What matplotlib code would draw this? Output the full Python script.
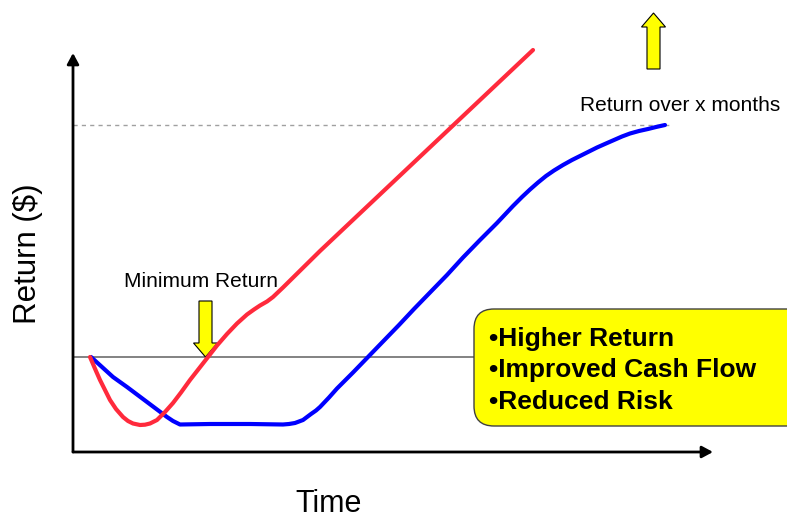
import matplotlib
matplotlib.use("Agg")
import matplotlib.pyplot as plt
from matplotlib.patches import FancyBboxPatch, FancyArrowPatch

plt.rcParams['font.family'] = ['Liberation Sans', 'DejaVu Sans']

# time / return in chart units
blue_t = [18, 40, 54, 74, 94, 100, 104, 107, 137, 177, 210, 216, 222, 226, 230, 234,
          238, 243, 247, 256, 264, 280, 295, 310, 326, 341, 357, 374, 390, 407, 424,
          440, 449, 457, 465, 473, 481, 490, 499, 508, 516, 524, 533, 541, 549, 557,
          566, 575, 583, 592]
blue_r = [95, 75, 65, 50, 35, 31, 29, 27.5, 28, 28, 27.5, 28, 29, 30.5, 32, 35,
          38, 41.5, 45, 54.5, 63.5, 79.5, 95, 110.5, 127, 143, 159.5, 177, 194.5, 212, 229,
          246, 255, 262.5, 269.5, 276, 281.5, 287, 292, 296.5, 300.5, 304.5, 308.5, 312, 315.5, 318.5,
          321, 323, 325, 327]

red_t = [17, 20, 23, 27, 32, 37, 43, 50, 55, 60, 67, 72, 77, 84, 92, 100, 108, 117,
         126, 135, 144, 154, 164, 174, 181, 187, 194, 200, 210, 247, 460]
red_r = [95, 88, 81, 72, 62, 52, 43, 35, 31, 28.5, 27, 27.3, 28.5, 32, 40, 49, 59.5, 72,
         83.5, 95, 106.5, 118, 128.5, 137.5, 142.5, 146.5, 150.5, 155, 164.5, 201, 402]

min_return = 95
target_return = 327
t_max = 640
r_max = 399

bullets = ["\u2022Higher Return", "\u2022Improved Cash Flow", "\u2022Reduced Risk"]

fig = plt.figure(figsize=(7.87, 5.2), dpi=100)
ax = fig.add_axes([0, 0, 1, 1])
ax.set_xlim(-73, 714)
ax.set_ylim(-68, 452)
ax.axis('off')

# reference lines
ax.plot([0, 401], [min_return, min_return], color='#606060', lw=1.1, zorder=1)
ax.plot([0, 599], [target_return, target_return], color='#A0A0A0', lw=1,
        dashes=(3, 3), zorder=1)

# axes with arrow heads
for end in [(t_max, 0), (0, r_max)]:
    ax.add_patch(FancyArrowPatch((0, 0), end, arrowstyle='-|>,head_length=0.65,head_width=0.35',
                                 mutation_scale=10, lw=2, color='black',
                                 shrinkA=0, shrinkB=0, zorder=3))

# yellow arrows
ax.arrow(580.5, 383, 0, 56, width=13, head_width=24, head_length=14,
         length_includes_head=True, fc='#FFFF00', ec='black', lw=0.8, zorder=2)
ax.arrow(132.5, 151, 0, -56, width=13, head_width=24, head_length=14,
         length_includes_head=True, fc='#FFFF00', ec='black', lw=0.8, zorder=2)

# curves
ax.plot(blue_t, blue_r, color='#0000FF', lw=3, solid_joinstyle='round',
        solid_capstyle='round', zorder=4)
ax.plot(red_t, red_r, color='#FF2A3C', lw=3, solid_joinstyle='round',
        solid_capstyle='round', zorder=5)

# benefit box
ax.add_patch(FancyBboxPatch((401, 26), 340, 117,
                            boxstyle='round,pad=0,rounding_size=20',
                            fc='#FFFF00', ec='#404040', lw=1, zorder=6))
for i, line in enumerate(bullets):
    ax.text(416, 106.3 - 31.7 * i, line, fontsize=19, fontweight='bold',
            va='baseline', ha='left', zorder=7)

ax.text(127.5, 164.7, "Minimum Return", fontsize=15, ha='center', va='baseline')
ax.text(507, 341, "Return over x months", fontsize=15, ha='left', va='baseline')
ax.text(-45, 198, "Return ($)", fontsize=22.5, rotation=90, ha='center', va='center')
ax.text(256, -60, "Time", fontsize=22, ha='center', va='baseline')

fig.savefig("out.png", dpi=100)
